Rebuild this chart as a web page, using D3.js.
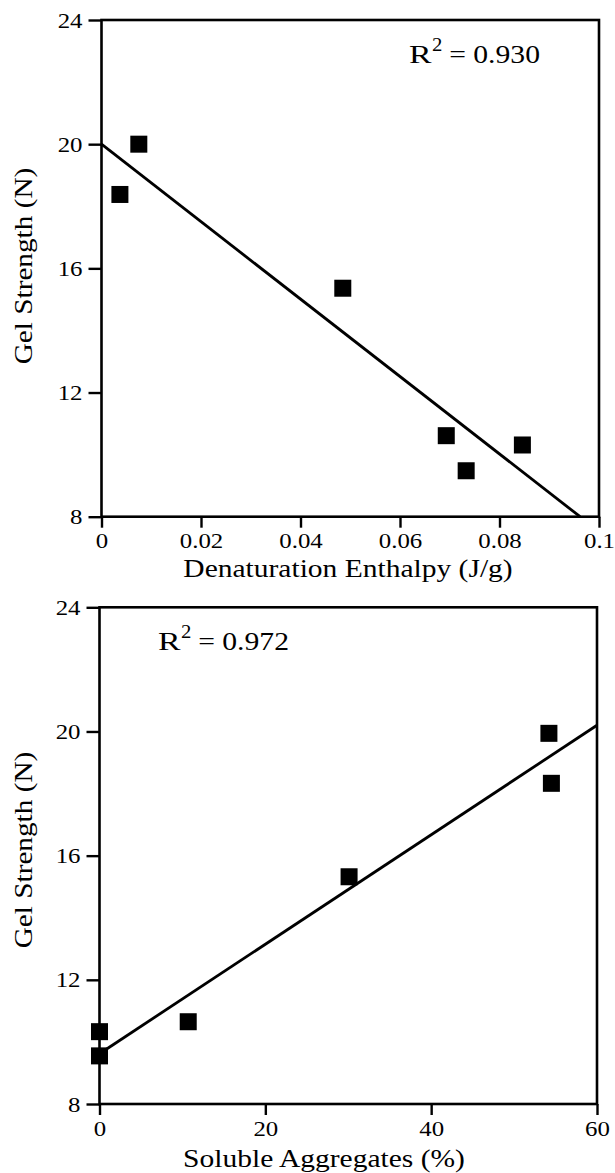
<!DOCTYPE html>
<html>
<head>
<meta charset="utf-8">
<script src="https://cdn.jsdelivr.net/npm/d3@7"></script>
<style>
  html, body { margin: 0; padding: 0; background: #fff; }
  svg { display: block; }
  svg text { font-family: "Liberation Serif", "Times New Roman", serif !important; fill: #000; }
</style>
</head>
<body>
<svg id="chart" width="615" height="1173"></svg>
<script>
// ---- Data ----
// Panel 1: Gel strength vs denaturation enthalpy
const enthalpyX = [0.0037, 0.0075, 0.0485, 0.0693, 0.0733, 0.0846];
const enthalpyY = [18.38, 20.0, 15.36, 10.61, 9.48, 10.31];
const enthalpyFitX = [0, 0.0962];
const enthalpyFitY = [20.0, 8.0];
const enthalpyTicks = [0, 0.02, 0.04, 0.06, 0.08, 0.1];
const enthalpyR2 = "0.930";

// Panel 2: Gel strength vs soluble aggregates
const aggregatesX = [54.2, 54.5, 30.1, 10.7, 0, 0];
const aggregatesY = [19.94, 18.33, 15.32, 10.65, 10.33, 9.55];
const aggregatesFitX = [0, 60];
const aggregatesFitY = [9.62, 20.2];
const aggregatesTicks = [0, 20, 40, 60];
const aggregatesR2 = "0.972";

const strengthTicks = [8, 12, 16, 20, 24];

const svg = d3.select("#chart");
const STRETCH = 1.13;
const SERIF = "Liberation Serif, Times New Roman, serif";

function stretch(sel, k) {
  sel.each(function() {
    const len = this.getComputedTextLength();
    d3.select(this).attr("textLength", len * k).attr("lengthAdjust", "spacingAndGlyphs");
  });
}

function panel(cfg) {
  const x = d3.scaleLinear().domain(cfg.xDomain).range([cfg.left, cfg.right]);
  const y = d3.scaleLinear().domain([8, 24]).range([cfg.bottom, cfg.top]);
  const g = svg.append("g").attr("font-family", SERIF);

  // y axis
  const ya = g.append("g").attr("transform", `translate(${cfg.left},0)`)
    .call(d3.axisLeft(y).tickValues(strengthTicks).tickSize(13).tickPadding(6).tickFormat(d3.format("d")));
  ya.attr("font-family", SERIF);
  ya.select(".domain").remove();
  ya.selectAll(".tick line").attr("stroke", "#000").attr("stroke-width", 2.4);
  ya.selectAll(".tick text").attr("font-size", 22).call(stretch, STRETCH);

  // x axis
  const xa = g.append("g").attr("transform", `translate(0,${cfg.bottom})`)
    .call(d3.axisBottom(x).tickValues(cfg.xTicks).tickSize(11).tickPadding(5).tickFormat(cfg.xFormat));
  xa.attr("font-family", SERIF);
  xa.select(".domain").remove();
  xa.selectAll(".tick line").attr("stroke", "#000").attr("stroke-width", 2.4);
  xa.selectAll(".tick text").attr("font-size", 22).call(stretch, STRETCH);

  // frame
  g.append("rect")
    .attr("x", cfg.left).attr("y", cfg.top)
    .attr("width", cfg.right - cfg.left).attr("height", cfg.bottom - cfg.top)
    .attr("fill", "none").attr("stroke", "#000").attr("stroke-width", 2.6);

  // regression line
  const fit = cfg.fitX.map((d, i) => [d, cfg.fitY[i]]);
  g.append("path")
    .datum(fit)
    .attr("d", d3.line().x(d => x(d[0])).y(d => y(d[1])))
    .attr("fill", "none").attr("stroke", "#000").attr("stroke-width", 2.8);

  // points
  const pts = cfg.px.map((d, i) => [d, cfg.py[i]]);
  const s = 17;
  g.selectAll("rect.pt").data(pts).enter().append("rect")
    .attr("class", "pt")
    .attr("x", d => x(d[0]) - s / 2).attr("y", d => y(d[1]) - s / 2)
    .attr("width", s).attr("height", s).attr("fill", "#000");

  // x title
  g.append("text")
    .attr("x", cfg.xTitleX).attr("y", cfg.xTitleY)
    .attr("text-anchor", "middle").attr("font-size", 25)
    .text(cfg.xTitle).call(stretch, cfg.xTitleStretch);

  // y title
  g.append("text")
    .attr("transform", `translate(32,${cfg.yTitleY}) rotate(-90)`)
    .attr("text-anchor", "middle").attr("font-size", 25)
    .text("Gel Strength (N)").call(stretch, 1.17);

  // R^2 annotation
  g.append("text").attr("x", cfg.r2X).attr("y", cfg.r2Y).attr("font-size", 26).text("R").call(stretch, 1.3);
  g.append("text").attr("x", cfg.r2X + 23).attr("y", cfg.r2Y - 12).attr("font-size", 18).text("2").call(stretch, 1.15);
  g.append("text").attr("x", cfg.r2X + 131).attr("y", cfg.r2Y).attr("text-anchor", "end")
    .attr("font-size", 26).text("= " + cfg.r2).call(stretch, 1.14);
}

panel({
  left: 101.5, right: 599, top: 20, bottom: 516.7,
  xDomain: [0, 0.1], xTicks: enthalpyTicks, xFormat: d3.format("~g"),
  px: enthalpyX, py: enthalpyY, fitX: enthalpyFitX, fitY: enthalpyFitY,
  xTitle: "Denaturation Enthalpy (J/g)", xTitleX: 348, xTitleY: 577, xTitleStretch: 1.18,
  yTitleY: 266, r2: enthalpyR2, r2X: 409, r2Y: 63
});

panel({
  left: 99.5, right: 597, top: 607.3, bottom: 1104,
  xDomain: [0, 60], xTicks: aggregatesTicks, xFormat: d3.format("d"),
  px: aggregatesX, py: aggregatesY, fitX: aggregatesFitX, fitY: aggregatesFitY,
  xTitle: "Soluble Aggregates (%)", xTitleX: 324, xTitleY: 1167, xTitleStretch: 1.18,
  yTitleY: 850, r2: aggregatesR2, r2X: 158, r2Y: 650
});
</script>
</body>
</html>
